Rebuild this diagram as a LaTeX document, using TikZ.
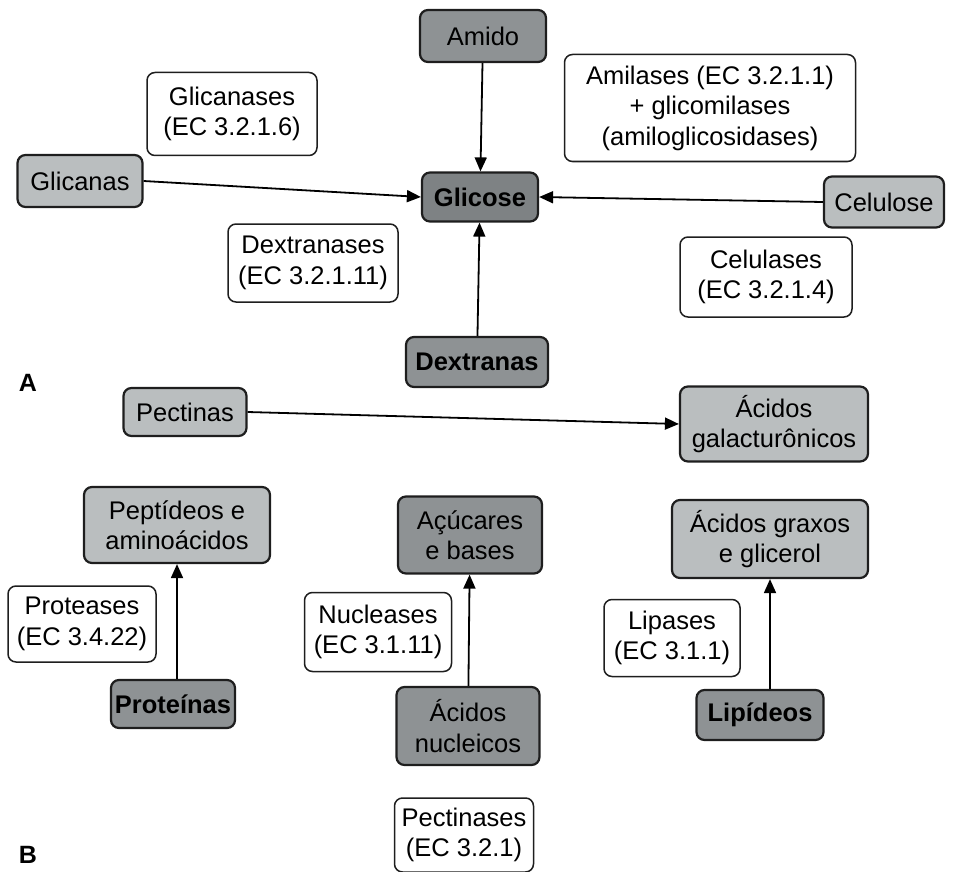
\documentclass[tikz,border=0pt]{standalone}
\usepackage{fontspec}
\setmainfont{Liberation Sans}
\usetikzlibrary{arrows.meta}
\definecolor{lightg}{HTML}{BABEBF}
\definecolor{midg}{HTML}{8E9294}
\definecolor{darkg}{HTML}{7E8284}
\definecolor{edge}{HTML}{1E1E1E}
\begin{document}
\begin{tikzpicture}[x=1pt,y=-1pt,
  base/.style={draw=edge,line width=2.2pt,rounded corners=8pt,inner sep=0pt,align=center,font=\fontsize{25.5}{30.5}\selectfont,text=black},
  light/.style={base,fill=lightg},
  mid/.style={base,fill=midg},
  boldtxt/.style={font=\fontsize{25.5}{30.5}\selectfont\bfseries},
  dark/.style={base,fill=darkg,boldtxt},
  enz/.style={base,fill=white,line width=1.5pt},
  conn/.style={line width=1.8pt,-{Triangle[length=14pt,width=12pt]}},
  lbl/.style={font=\fontsize{25}{28}\selectfont\bfseries,inner sep=0pt}]
\useasboundingbox (0,0) rectangle (953,872);
% Part A
\node[mid,minimum width=126pt,minimum height=52pt] (amido) at (483,36) {Amido};
\node[dark,minimum width=116pt,minimum height=49pt] (glicose) at (480,197) {Glicose};
\node[light,minimum width=125pt,minimum height=52pt] (glicanas) at (80,181) {Glicanas};
\node[light,minimum width=120pt,minimum height=51pt] (celulose) at (884,202) {Celulose};
\node[mid,boldtxt,minimum width=142pt,minimum height=50pt] (dextranas) at (477,362) {Dextranas};
\node[enz,minimum width=170pt,minimum height=83pt] (glicanases) at (232,114) {Glicanases\\(EC 3.2.1.6)};
\node[enz,minimum width=291pt,minimum height=107pt] (amilases) at (710,108) {Amilases (EC 3.2.1.1)\\+ glicomilases\\(amiloglicosidases)};
\node[enz,minimum width=170pt,minimum height=78pt] (dextranases) at (313,263) {Dextranases\\(EC 3.2.1.11)};
\node[enz,minimum width=172pt,minimum height=80pt] (celulases) at (766,277) {Celulases\\(EC 3.2.1.4)};
\node[lbl] (labA) at (28,383) {A};
\draw[conn] (amido) -- (glicose);
\draw[conn] (dextranas) -- (glicose);
\draw[conn] (glicanas.east) -- (glicose.west);
\draw[conn] (celulose.west) -- (glicose.east);
% Part B
\node[light,minimum width=123pt,minimum height=48pt] (pectinas) at (185,412) {Pectinas};
\node[light,minimum width=188pt,minimum height=75pt] (galact) at (774,424) {Ácidos\\galacturônicos};
\node[light,minimum width=186pt,minimum height=76pt] (peptideos) at (177,525) {Peptídeos e\\aminoácidos};
\node[mid,minimum width=144pt,minimum height=77pt] (acucares) at (470,535) {Açúcares\\e bases};
\node[light,minimum width=196pt,minimum height=78pt] (graxos) at (770,539) {Ácidos graxos\\e glicerol};
\node[enz,minimum width=148pt,minimum height=76pt] (proteases) at (82,624) {Proteases\\(EC 3.4.22)};
\node[enz,minimum width=147pt,minimum height=79pt] (nucleases) at (378,632) {Nucleases\\(EC 3.1.11)};
\node[enz,minimum width=136pt,minimum height=77pt] (lipases) at (672,638) {Lipases\\(EC 3.1.1)};
\node[mid,boldtxt,minimum width=124pt,minimum height=48pt] (proteinas) at (173,704) {Proteínas};
\node[mid,minimum width=143pt,minimum height=78pt] (nucleicos) at (468,726) {Ácidos\\nucleicos};
\node[mid,boldtxt,minimum width=127pt,minimum height=50pt] (lipideos) at (760,715) {Lipídeos};
\node[enz,minimum width=139pt,minimum height=74pt] (pectinases) at (464,835) {Pectinases\\(EC 3.2.1)};
\node[lbl] (labB) at (28,855) {B};
\draw[conn] (pectinas.east) -- (galact.west);
\draw[conn] (proteinas.north -| peptideos.south) -- (peptideos.south);
\draw[conn] (nucleicos) -- (acucares);
\draw[conn] (lipideos.north -| graxos.south) -- (graxos.south);
\end{tikzpicture}
\end{document}
